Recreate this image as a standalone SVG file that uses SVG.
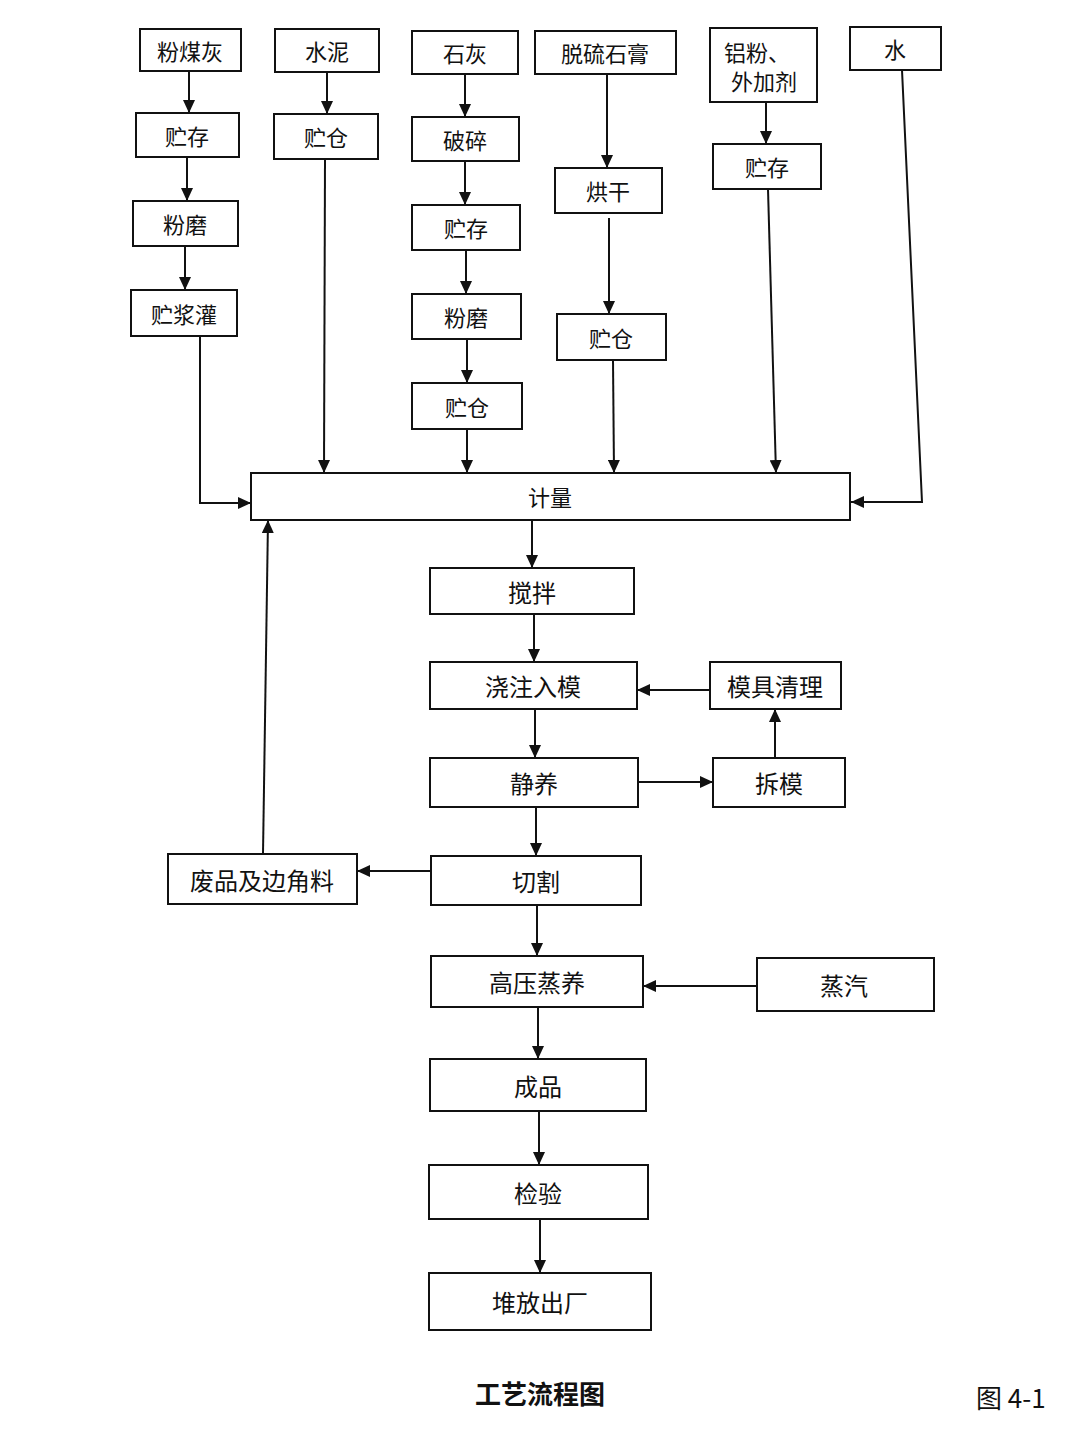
<svg xmlns="http://www.w3.org/2000/svg" width="1080" height="1434" viewBox="0 0 1080 1434">
<defs>
<style>
.n rect{fill:#fff;stroke:#111;stroke-width:2}
.n text{font-family:"Noto Sans CJK SC","Noto Sans",sans-serif;font-size:22px;fill:#111;text-anchor:middle;dominant-baseline:central}
.n.l text{font-size:24px}
#edges line,#edges polyline{fill:none;stroke:#111;stroke-width:2;marker-end:url(#ah)}
.cap{font-family:"Noto Sans CJK SC","Noto Sans",sans-serif;font-size:26px;fill:#111}
.bold{font-weight:bold}
</style>
<marker id="ah" viewBox="0 0 13 12" refX="13" refY="6" markerWidth="13" markerHeight="12" markerUnits="userSpaceOnUse" orient="auto">
<path d="M0,0 L13,6 L0,12 z" fill="#111"/>
</marker>
</defs>
<rect width="1080" height="1434" fill="#fff"/>
<g id="edges">
<line x1="189" y1="71" x2="189" y2="113"/>
<line x1="187" y1="157" x2="187" y2="201"/>
<line x1="185" y1="246" x2="185" y2="290"/>
<polyline points="200,336 200,503 251,503"/>
<line x1="327" y1="72" x2="327" y2="114"/>
<line x1="325" y1="159" x2="324" y2="473"/>
<line x1="465" y1="74" x2="465" y2="117"/>
<line x1="465" y1="161" x2="465" y2="205"/>
<line x1="466" y1="250" x2="466" y2="294"/>
<line x1="467" y1="339" x2="467" y2="383"/>
<line x1="467" y1="429" x2="467" y2="473"/>
<line x1="607" y1="74" x2="607" y2="168"/>
<line x1="609" y1="218" x2="609" y2="314"/>
<line x1="613" y1="360" x2="614" y2="473"/>
<line x1="766" y1="102" x2="766" y2="144"/>
<line x1="768" y1="189" x2="776" y2="473"/>
<polyline points="902,70 922,502 851,502"/>
<line x1="532" y1="520" x2="532" y2="568"/>
<line x1="534" y1="614" x2="534" y2="662"/>
<line x1="710" y1="690" x2="637" y2="690"/>
<line x1="535" y1="709" x2="535" y2="758"/>
<line x1="638" y1="782" x2="713" y2="782"/>
<line x1="775" y1="758" x2="775" y2="709"/>
<line x1="536" y1="807" x2="536" y2="856"/>
<line x1="431" y1="871" x2="357" y2="871"/>
<line x1="263" y1="854" x2="268" y2="520"/>
<line x1="537" y1="905" x2="537" y2="956"/>
<line x1="757" y1="986" x2="643" y2="986"/>
<line x1="538" y1="1007" x2="538" y2="1059"/>
<line x1="539" y1="1111" x2="539" y2="1165"/>
<line x1="540" y1="1219" x2="540" y2="1273"/>
</g>
<g id="n-fmh" class="n"><rect x="140" y="29" width="101" height="42"/><text x="190" y="50">粉煤灰</text></g>
<g id="n-zc1" class="n"><rect x="136" y="113" width="103" height="44"/><text x="187" y="135">贮存</text></g>
<g id="n-fm1" class="n"><rect x="133" y="201" width="105" height="45"/><text x="185" y="223">粉磨</text></g>
<g id="n-zjg" class="n"><rect x="131" y="290" width="106" height="46"/><text x="184" y="313">贮浆灌</text></g>
<g id="n-sn" class="n"><rect x="275" y="29" width="104" height="43"/><text x="327" y="50">水泥</text></g>
<g id="n-zcang2" class="n"><rect x="274" y="114" width="104" height="45"/><text x="326" y="136">贮仓</text></g>
<g id="n-sh" class="n"><rect x="412" y="31" width="106" height="43"/><text x="465" y="52">石灰</text></g>
<g id="n-ps" class="n"><rect x="412" y="117" width="107" height="44"/><text x="465" y="139">破碎</text></g>
<g id="n-zc3" class="n"><rect x="412" y="205" width="108" height="45"/><text x="466" y="227">贮存</text></g>
<g id="n-fm3" class="n"><rect x="412" y="294" width="109" height="45"/><text x="466" y="316">粉磨</text></g>
<g id="n-zcang3" class="n"><rect x="412" y="383" width="110" height="46"/><text x="467" y="406">贮仓</text></g>
<g id="n-tlsg" class="n"><rect x="535" y="31" width="141" height="43"/><text x="605" y="52">脱硫石膏</text></g>
<g id="n-hg" class="n"><rect x="555" y="168" width="107" height="45"/><text x="608" y="190">烘干</text></g>
<g id="n-zcang4" class="n"><rect x="557" y="314" width="109" height="46"/><text x="611" y="337">贮仓</text></g>
<g id="n-lf" class="n"><rect x="710" y="28" width="107" height="74"/><text x="757" y="51">铝粉、</text><text x="764" y="80">外加剂</text></g>
<g id="n-zc5" class="n"><rect x="713" y="144" width="108" height="45"/><text x="767" y="166">贮存</text></g>
<g id="n-water" class="n"><rect x="850" y="27" width="91" height="43"/><text x="895" y="48">水</text></g>
<g id="n-jl" class="n"><rect x="251" y="473" width="599" height="47"/><text x="550" y="496">计量</text></g>
<g id="n-jb" class="n l"><rect x="430" y="568" width="204" height="46"/><text x="532" y="591">搅拌</text></g>
<g id="n-jzrm" class="n l"><rect x="430" y="662" width="207" height="47"/><text x="533" y="685">浇注入模</text></g>
<g id="n-mjql" class="n l"><rect x="710" y="662" width="131" height="47"/><text x="775" y="685">模具清理</text></g>
<g id="n-jy" class="n l"><rect x="430" y="758" width="208" height="49"/><text x="534" y="782">静养</text></g>
<g id="n-cm" class="n l"><rect x="713" y="758" width="132" height="49"/><text x="779" y="782">拆模</text></g>
<g id="n-fp" class="n l"><rect x="168" y="854" width="189" height="50"/><text x="262" y="879">废品及边角料</text></g>
<g id="n-qg" class="n l"><rect x="431" y="856" width="210" height="49"/><text x="536" y="880">切割</text></g>
<g id="n-gyzy" class="n l"><rect x="431" y="956" width="212" height="51"/><text x="537" y="981">高压蒸养</text></g>
<g id="n-zq" class="n l"><rect x="757" y="958" width="177" height="53"/><text x="844" y="984">蒸汽</text></g>
<g id="n-cp" class="n l"><rect x="430" y="1059" width="216" height="52"/><text x="538" y="1085">成品</text></g>
<g id="n-jy2" class="n l"><rect x="429" y="1165" width="219" height="54"/><text x="538" y="1192">检验</text></g>
<g id="n-dfcc" class="n l"><rect x="429" y="1273" width="222" height="57"/><text x="540" y="1301">堆放出厂</text></g>
<text class="cap bold" x="540" y="1404" text-anchor="middle">工艺流程图</text>
<text class="cap" x="976" y="1408">图 4-1</text>
</svg>
